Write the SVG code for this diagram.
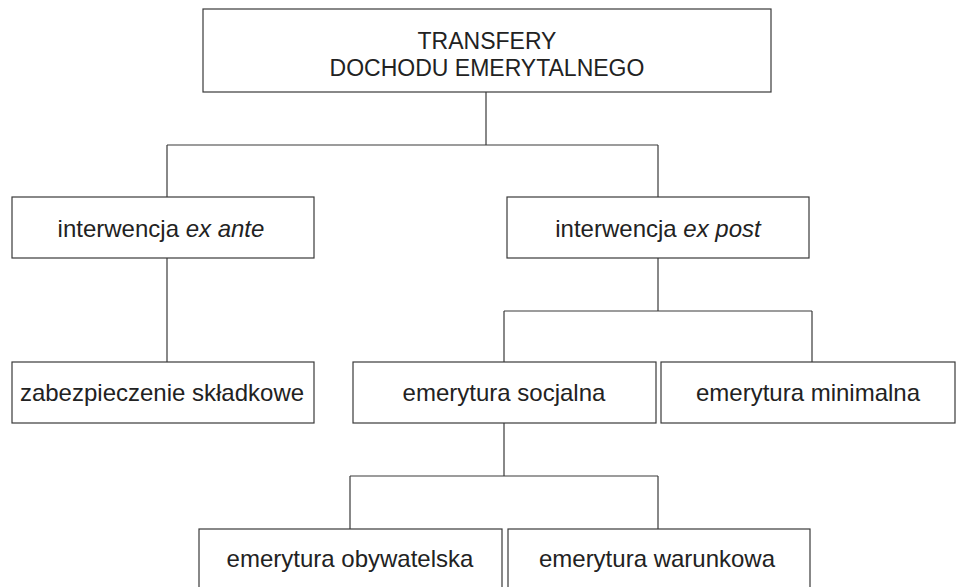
<svg xmlns="http://www.w3.org/2000/svg" width="956" height="587" viewBox="0 0 956 587">
<style>
.box{fill:#fff;stroke:#3a3a3a;stroke-width:1.2}
.con{fill:none;stroke:#3a3a3a;stroke-width:1.2}
text{font-family:"Liberation Sans",Arial,sans-serif;font-size:24px;fill:#222;text-anchor:middle}
.top{font-size:23px}
</style>
<rect width="956" height="587" fill="#fff"/>
<g id="connectors">
<path class="con" d="M486 92V145M167 145H658M167 145V197M658 145V197"/>
<path class="con" d="M167 258V362"/>
<path class="con" d="M658 258V311M504 311H812M504 311V362M812 311V362"/>
<path class="con" d="M504 423V476M350 476H658M350 476V529M658 476V529"/>
</g>
<g id="n-transfery">
<rect class="box" x="203" y="9" width="568" height="83"/>
<text class="top" x="487" y="49">TRANSFERY</text>
<text class="top" x="487" y="76">DOCHODU EMERYTALNEGO</text>
</g>
<g id="n-exante">
<rect class="box" x="12" y="197" width="302" height="61"/>
<text x="161" y="237">interwencja <tspan font-style="italic">ex ante</tspan></text>
</g>
<g id="n-expost">
<rect class="box" x="507" y="197" width="302" height="61"/>
<text x="658" y="237">interwencja <tspan font-style="italic">ex post</tspan></text>
</g>
<g id="n-skladkowe">
<rect class="box" x="12" y="362" width="302" height="61"/>
<text x="162" y="401">zabezpieczenie składkowe</text>
</g>
<g id="n-socjalna">
<rect class="box" x="353" y="362" width="303" height="61"/>
<text x="504" y="401">emerytura socjalna</text>
</g>
<g id="n-minimalna">
<rect class="box" x="661" y="362" width="294" height="61"/>
<text x="808" y="401">emerytura minimalna</text>
</g>
<g id="n-obywatelska">
<rect class="box" x="199" y="529" width="303" height="80"/>
<text x="350" y="567">emerytura obywatelska</text>
</g>
<g id="n-warunkowa">
<rect class="box" x="508" y="529" width="302" height="80"/>
<text x="657" y="567">emerytura warunkowa</text>
</g>
</svg>
